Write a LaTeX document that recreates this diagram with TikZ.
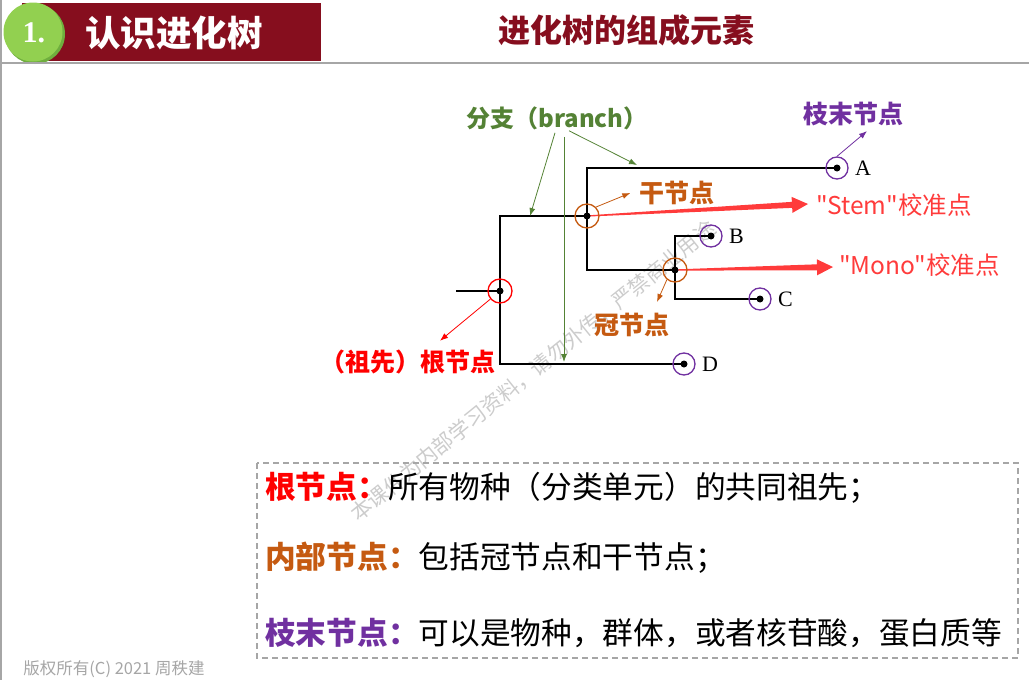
\documentclass[tikz,border=0pt]{standalone}
\usepackage{fontspec}
\setmainfont{Noto Sans CJK SC}
\newfontfamily\serifabc{Liberation Serif}
\newfontfamily\calfont[Ligatures=TeXOff]{Noto Sans CJK SC}
\usetikzlibrary{arrows.meta,calc,positioning}
\definecolor{titlered}{HTML}{860E1E}
\definecolor{headgreen}{HTML}{92D050}
\definecolor{headgreendark}{HTML}{6FAE3E}
\definecolor{branchgreen}{HTML}{548235}
\definecolor{nodeorange}{HTML}{C55A11}
\definecolor{leafpurple}{HTML}{7030A0}
\definecolor{calred}{HTML}{FF3B3B}
\definecolor{linegray}{HTML}{A6A6A6}
\newcommand{\fsz}[1]{\fontsize{#1}{#1}\selectfont}
% tapering calibration arrow
\newcommand{\fatarrow}[2]{%
  \coordinate (fa-h) at ($(#2)!16pt!(#1)$);
  \fill[calred] ($(#1)!0.6pt!90:(#2)$) -- ($(fa-h)!3pt!90:(#2)$)
    -- ($(fa-h)!8pt!90:(#2)$) -- (#2) -- ($(fa-h)!8pt!-90:(#2)$)
    -- ($(fa-h)!3pt!-90:(#2)$) -- ($(#1)!0.6pt!-90:(#2)$) -- cycle;}

\begin{document}
\begin{tikzpicture}[
  x=1pt, y=-1pt,
  >={Latex[length=8pt,width=6pt]},
  tree/.style={line width=1.6pt},
  inner/.style={circle, draw=nodeorange, line width=1.3pt, minimum size=24pt, inner sep=0pt},
  rootnode/.style={inner, draw=red},
  leaf/.style={inner, draw=leafpurple, minimum size=22pt},
  dot/.style={circle, fill=black, inner sep=0pt, minimum size=7pt},
  tag/.style={font=\bfseries\fsz{25}, inner sep=1pt},
  pointer/.style={->, line width=0.8pt},
  tiplabel/.style={font=\serifabc\fsz{22}, inner sep=0pt, anchor=west},
  callabel/.style={font=\calfont\fsz{24.5}, text=calred, inner sep=0pt, anchor=west},
  boxline/.style={font=\fsz{30.7}, inner sep=0pt, anchor=west}
]
  \useasboundingbox (0,0) rectangle (1029,680);

  % header
  \fill[titlered] (22,3) rectangle (321,61);
  \fill[headgreendark] (35,34) circle (30);
  \fill[headgreen] (33,32) circle (29.5);
  \node[font=\serifabc\bfseries\fsz{30}, text=white] (num) at (34,33) {1.};
  \node[font=\bfseries\fsz{35.5}, text=white] (head) at (174,33) {认识进化树};
  \node[font=\bfseries\fsz{32}, text=titlered] (title) at (626,30) {进化树的组成元素};
  \draw[linegray, line width=2pt] (0,63) -- (1029,63);
  \draw[linegray, line width=1.5pt] (1,0) -- (1,680);

  % watermark
  \node[font=\fsz{21}, text=black!20, rotate=39] (mark) at (533,371)
    {本课件为内部学习资料，请勿外传，严禁商业用途};

  % tree
  \coordinate (in) at (456,291);
  \coordinate (root) at (500,291);
  \coordinate (stem) at (587,216);
  \coordinate (crown) at (675,270);
  \coordinate (A) at (837,168);
  \coordinate (B) at (711,236);
  \coordinate (C) at (760,299);
  \coordinate (D) at (684,364);
  \draw[tree] (in) -- (root) (root) |- (stem) (root) |- (D)
    (stem) |- (A) (stem) |- (crown) (crown) |- (B) (crown) |- (C);

  \coordinate (stem-tip) at (808,204);
  \coordinate (crown-tip) at (833,267);
  \fatarrow{stem}{stem-tip}
  \fatarrow{crown}{crown-tip}

  \node[rootnode] (root-c) at (root) {};
  \node[inner] (stem-c) at (stem) {};
  \node[inner] (crown-c) at (crown) {};
  \foreach \n in {A,B,C,D} {
    \node[leaf] (\n-c) at (\n) {};
    \node[tiplabel] (\n-l) at ($(\n)+(18,0)$) {\n};
  }
  \foreach \n in {root,stem,crown,A,B,C,D}
    \node[dot] at (\n) {};

  % labels
  \node[tag, font=\bfseries\fsz{24}, text=branchgreen] (branch-l) at (557,118) {分支（branch）};
  \coordinate (br-a) at (530,216);
  \coordinate (br-b) at (564,362);
  \coordinate (br-c) at (637,165);
  \draw[pointer, branchgreen] ($(branch-l.south)+(-2,2)$) -- (br-a);
  \draw[pointer, branchgreen] ($(branch-l.south)+(7,6)$) -- (br-b);
  \draw[pointer, branchgreen] ($(branch-l.south)+(12,0)$) -- (br-c);

  \node[tag, text=leafpurple] (tip-l) at (853,114) {枝末节点};
  \draw[pointer, leafpurple] (A-c.north) -- ($(tip-l.south)+(14,4)$);

  \node[tag, text=nodeorange] (stem-l) at (677,193) {干节点};
  \draw[pointer, nodeorange] (stem-c.45) -- ($(stem-l.west)+(-8,0)$);

  \node[tag, text=nodeorange] (crown-l) at (632,325) {冠节点};
  \draw[pointer, nodeorange] (crown-c.-130) -- ($(crown-l.north)+(25,-10)$);

  \node[tag, text=red] (root-l) at (408,362) {（祖先）根节点};
  \draw[pointer, red] (root-c.-140) -- ($(root-l.north)+(32,-8)$);

  \node[callabel] (stemcal-l) at (816,205) {"Stem"校准点};
  \node[callabel] (crowncal-l) at (839,265) {"Mono"校准点};

  % definitions box
  \draw[linegray, line width=1.3pt, dash pattern=on 6pt off 4pt] (257,463) rectangle (1018,658);
  \node[boxline] (def-root) at (265,488)
    {{\bfseries\color{red}根节点：}所有物种（分类单元）的共同祖先；};
  \node[boxline] (def-inner) at (265,558)
    {{\bfseries\color{nodeorange}内部节点：}包括冠节点和干节点；};
  \node[boxline] (def-tip) at (265,633)
    {{\bfseries\color{leafpurple}枝末节点：}可以是物种，群体，或者核苷酸，蛋白质等};

  % footer
  \node[font=\fsz{16.5}, text=linegray] (copy) at (114,669) {版权所有(C) 2021 周秩建};
\end{tikzpicture}
\end{document}
